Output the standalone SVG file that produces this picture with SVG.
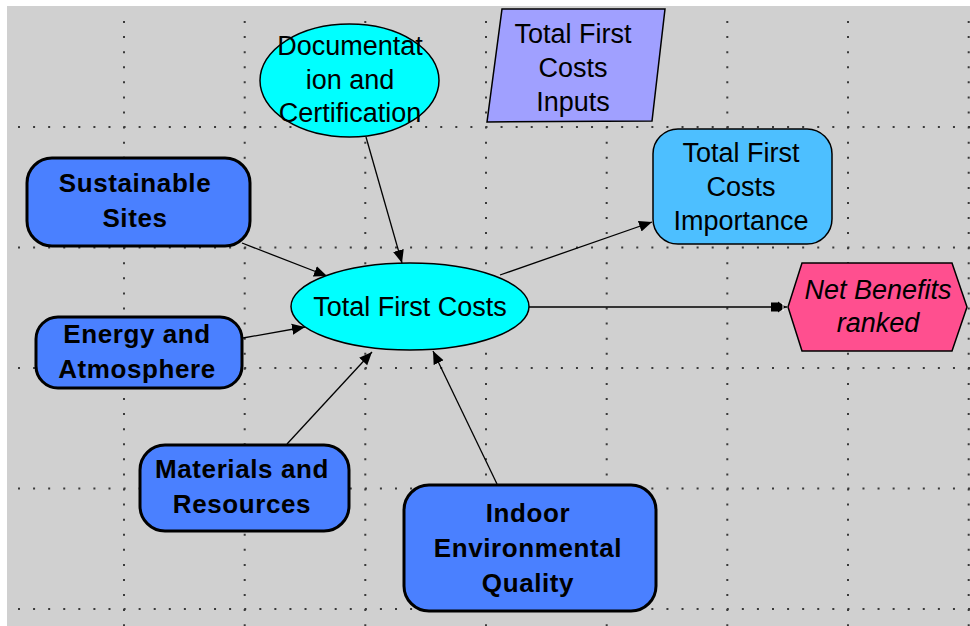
<svg xmlns="http://www.w3.org/2000/svg" width="970" height="626" viewBox="0 0 970 626">
<style>
.grid{stroke:#3a3a3a;stroke-width:2;stroke-dasharray:2 13.08;fill:none}
.t{font-family:"Liberation Sans",Arial,sans-serif;font-size:27px;fill:#000;text-anchor:middle}
.b{font-family:"Liberation Sans",Arial,sans-serif;font-size:26px;font-weight:bold;letter-spacing:0.6px;fill:#000;text-anchor:middle}
.i{font-style:italic}
.thin{stroke:#000;stroke-width:1.5}
.thick{fill:#4a80ff;stroke:#000;stroke-width:3}
.edge{stroke:#000;stroke-width:1.3;fill:none;marker-end:url(#arr)}
</style>
<defs>
<marker id="arr" markerUnits="userSpaceOnUse" markerWidth="14" markerHeight="12" refX="13" refY="6" orient="auto">
<path d="M0,0.5 L13,6 L0,11.5 z" fill="#000"/>
</marker>
<marker id="arr2" markerUnits="userSpaceOnUse" markerWidth="18" markerHeight="12" refX="16" refY="6" orient="auto">
<path d="M0,1.5 L7,1.5 L7,0.5 L15,6 L7,11.5 L7,10.5 L0,10.5 z" fill="#000"/>
<path d="M12,2 L12,10" stroke="#fff" stroke-width="1"/>
</marker>
</defs>
<rect x="0" y="0" width="970" height="626" fill="#ffffff"/>
<rect x="7" y="6" width="963" height="620" fill="#d0d0d0"/>
<g id="grid">
<line class="grid" x1="124" y1="21" x2="124" y2="626"/>
<line class="grid" x1="244.7" y1="21" x2="244.7" y2="626"/>
<line class="grid" x1="365.3" y1="21" x2="365.3" y2="626"/>
<line class="grid" x1="486" y1="21" x2="486" y2="626"/>
<line class="grid" x1="606.7" y1="21" x2="606.7" y2="626"/>
<line class="grid" x1="727.3" y1="21" x2="727.3" y2="626"/>
<line class="grid" x1="848" y1="21" x2="848" y2="626"/>
<line class="grid" x1="968.7" y1="21" x2="968.7" y2="626"/>
<line class="grid" x1="18" y1="127" x2="970" y2="127"/>
<line class="grid" x1="18" y1="247.5" x2="970" y2="247.5"/>
<line class="grid" x1="18" y1="368" x2="970" y2="368"/>
<line class="grid" x1="18" y1="488.5" x2="970" y2="488.5"/>
<line class="grid" x1="18" y1="609" x2="970" y2="609"/>
</g>
<g id="connectors">
<line class="edge" x1="366" y1="137" x2="402" y2="263"/>
<line class="edge" x1="242" y1="243" x2="327" y2="276"/>
<line class="edge" x1="243" y1="338" x2="305" y2="327"/>
<line class="edge" x1="287" y1="444" x2="372" y2="352"/>
<line class="edge" x1="497" y1="484" x2="433" y2="351"/>
<line class="edge" x1="500" y1="275" x2="652" y2="222"/>
<line x1="529" y1="307" x2="787" y2="307" stroke="#000" stroke-width="1.3" marker-end="url(#arr2)"/>
</g>
<g id="doc">
<ellipse cx="349.5" cy="80.5" rx="89.5" ry="56.5" fill="#00ffff" class="thin"/>
<text class="t" x="350" y="55">Documentat</text>
<text class="t" x="350" y="89">ion and</text>
<text class="t" x="350" y="122">Certification</text>
</g>
<g id="inputs">
<polygon points="502,9 665,9 652,121 487,122" fill="#a0a0ff" class="thin"/>
<text class="t" x="573" y="43">Total First</text>
<text class="t" x="573" y="77">Costs</text>
<text class="t" x="573" y="111">Inputs</text>
</g>
<g id="importance">
<rect x="653" y="129" width="179" height="115" rx="25" ry="25" fill="#4dbfff" class="thin"/>
<text class="t" x="741" y="162">Total First</text>
<text class="t" x="741" y="196">Costs</text>
<text class="t" x="741" y="230">Importance</text>
</g>
<g id="netbenefits">
<polygon points="788,307 802,263 952,263 967,307 952,351 802,351" fill="#ff4f8f" class="thin"/>
<text class="t i" x="878" y="299">Net Benefits</text>
<text class="t i" x="878" y="332">ranked</text>
</g>
<g id="tfc">
<ellipse cx="410" cy="306.5" rx="119" ry="43.5" fill="#00ffff" class="thin"/>
<text class="t" x="410" y="316">Total First Costs</text>
</g>
<g id="sustainable">
<rect x="27" y="158" width="223" height="88" rx="25" ry="25" class="thick"/>
<text class="b" x="135" y="192">Sustainable</text>
<text class="b" x="135" y="227">Sites</text>
</g>
<g id="energy">
<rect x="36" y="317" width="206" height="71" rx="22" ry="22" class="thick"/>
<text class="b" x="137" y="343">Energy and</text>
<text class="b" x="137" y="378">Atmosphere</text>
</g>
<g id="materials">
<rect x="140" y="445" width="209" height="86" rx="25" ry="25" class="thick"/>
<text class="b" x="242" y="478">Materials and</text>
<text class="b" x="242" y="513">Resources</text>
</g>
<g id="indoor">
<rect x="404" y="485" width="252" height="126" rx="25" ry="25" class="thick"/>
<text class="b" x="528" y="522">Indoor</text>
<text class="b" x="528" y="557">Environmental</text>
<text class="b" x="528" y="592">Quality</text>
</g>
</svg>
